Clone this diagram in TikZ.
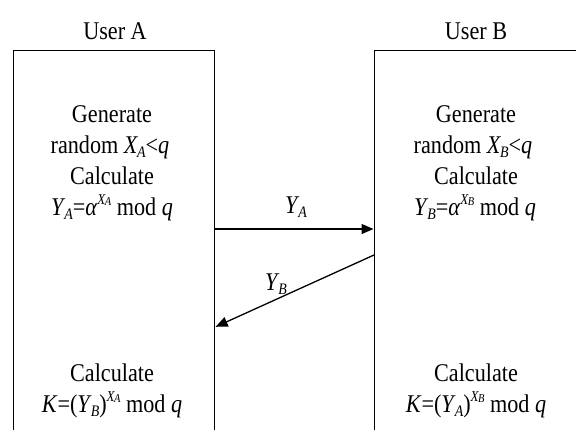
\documentclass[tikz,border=0pt]{standalone}
\usepackage{fontspec}
\setmainfont{Liberation Serif}[FakeStretch=0.87]
\usetikzlibrary{arrows.meta}

% small lowered / raised italic indices
\newcommand{\dn}[1]{\kern-0.04em\raisebox{-0.16em}{\fontsize{16}{16}\selectfont\itshape #1}}
\newcommand{\up}[1]{\raisebox{0.42em}{\fontsize{15}{15}\selectfont\itshape #1}}
\newcommand{\upx}[1]{\up{X\kern-0.03em\raisebox{-0.06em}{\fontsize{12}{12}\selectfont #1}}}

\tikzset{
  txt/.style={anchor=base, inner sep=0pt, font=\fontsize{25.5}{31}\selectfont},
  userbox/.style={draw, line width=1.2pt, anchor=north west, inner sep=0pt},
  msg/.style={line width=1.3pt, -{Triangle[length=12pt,width=10pt]}, shorten >=0.5pt},
}

\begin{document}
\begin{tikzpicture}[x=1pt, y=-1pt]
  \useasboundingbox (0,0) rectangle (576,429);
  \clip (0,0) rectangle (576,429);

  % the two parties
  \node[userbox, minimum width=201.5pt, minimum height=400pt] (boxA) at (12.5,50) {};
  \node[userbox, minimum width=210pt, minimum height=400pt] (boxB) at (374,50) {};

  \node[txt] (userA) at (115,39) {User A};
  \node[txt] (userB) at (476,39) {User B};

  % user A
  \node[txt] (aGen)  at (112,122) {Generate};
  \node[txt] (aRnd)  at (110,153) {random \textit{X}\dn{A}<\textit{q}};
  \node[txt] (aCalc) at (112,184) {Calculate};
  \node[txt] (aY)    at (112,215) {\textit{Y}\dn{A}=\textit{α}\upx{A} mod \textit{q}};
  \node[txt] (aCalc2) at (112,381) {Calculate};
  \node[txt] (aK)    at (112,412) {\textit{K}=(\textit{Y}\dn{B})\upx{A} mod \textit{q}};

  % user B
  \node[txt] (bGen)  at (476,122) {Generate};
  \node[txt] (bRnd)  at (473,153) {random \textit{X}\dn{B}<\textit{q}};
  \node[txt] (bCalc) at (476,184) {Calculate};
  \node[txt] (bY)    at (475,215) {\textit{Y}\dn{B}=\textit{α}\upx{B} mod \textit{q}};
  \node[txt] (bCalc2) at (476,381) {Calculate};
  \node[txt] (bK)    at (476,412) {\textit{K}=(\textit{Y}\dn{A})\upx{B} mod \textit{q}};

  % exchanged public values
  \coordinate (yaLevel) at (0,229);
  \coordinate (ybStart) at (0,255);
  \coordinate (ybEnd) at (0,327);
  \draw[msg] (boxA.east |- yaLevel) -- (boxB.west |- yaLevel);
  \draw[msg] (boxB.west |- ybStart) -- (boxA.east |- ybEnd);

  \node[txt] (labA) at (296,213) {\textit{Y}\dn{A}};
  \node[txt] (labB) at (276,290) {\textit{Y}\dn{B}};
\end{tikzpicture}
\end{document}
